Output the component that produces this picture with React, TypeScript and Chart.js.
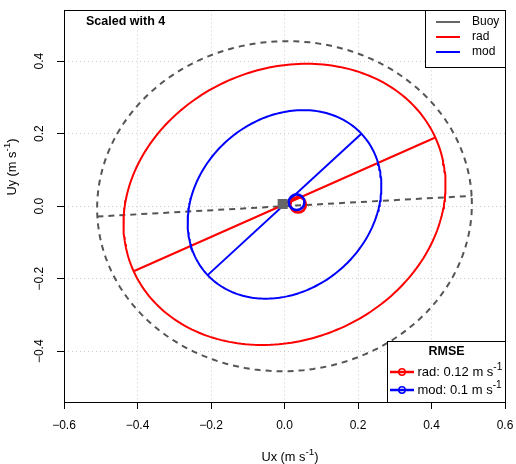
import { useEffect, useRef } from "react";
import { Chart, registerables } from "chart.js";
Chart.register(...registerables);

// ---- data ----
const ellipseNames = ["Buoy", "rad", "mod"];
const semiMajor = [0.51, 0.45, 0.286];
const semiMinor = [0.455, 0.374, 0.235];
const inclinationDeg = [3.2, 24.2, 43.0];
const centerX = [0, 0, 0];
const centerY = [0, 0.005, 0.005];
const meanU = [-0.005, 0.037, 0.033];
const meanV = [0.006, 0.004, 0.011];
const seriesColors = ["#555555", "#ff0000", "#0000ff"];
const rmseModels = ["rad", "mod"];
const rmseValues = ["0.12", "0.1"];
const xTicks = [-0.6, -0.4, -0.2, 0, 0.2, 0.4, 0.6];
const yTicks = [-0.4, -0.2, 0, 0.2, 0.4];
const scaleNote = "Scaled with 4";
const unitText = "m s";
const unitSup = "-1";

const FONT = "'Liberation Sans', Arial, Helvetica, sans-serif";

function ellipseOutline(i: number) {
  const pts: { x: number; y: number }[] = [];
  const th = (inclinationDeg[i] * Math.PI) / 180;
  const n = 240;
  for (let k = 0; k <= n; k++) {
    const t = (2 * Math.PI * k) / n;
    const ex = semiMajor[i] * Math.cos(t);
    const ey = semiMinor[i] * Math.sin(t);
    pts.push({
      x: centerX[i] + ex * Math.cos(th) - ey * Math.sin(th),
      y: centerY[i] + ex * Math.sin(th) + ey * Math.cos(th),
    });
  }
  return pts;
}

function majorAxis(i: number) {
  const th = (inclinationDeg[i] * Math.PI) / 180;
  const dx = semiMajor[i] * Math.cos(th);
  const dy = semiMajor[i] * Math.sin(th);
  return [
    { x: centerX[i] - dx, y: centerY[i] - dy },
    { x: centerX[i] + dx, y: centerY[i] + dy },
  ];
}

function fmt(v: number) {
  if (Math.abs(v) < 1e-9) return "0.0";
  const s = v.toFixed(1);
  return s.replace("-", "\u2212");
}

function drawSupText(
  ctx: CanvasRenderingContext2D,
  base: string,
  sup: string,
  tail: string,
  x: number,
  y: number,
  align: "left" | "center",
  size: number
) {
  const supSize = size * 0.78;
  ctx.font = `${size}px ${FONT}`;
  const wBase = ctx.measureText(base).width;
  ctx.font = `${supSize}px ${FONT}`;
  const wSup = ctx.measureText(sup).width;
  ctx.font = `${size}px ${FONT}`;
  const wTail = ctx.measureText(tail).width;
  const total = wBase + wSup + wTail;
  let sx = align === "center" ? x - total / 2 : x;
  ctx.textAlign = "left";
  ctx.textBaseline = "middle";
  ctx.font = `${size}px ${FONT}`;
  ctx.fillText(base, sx, y);
  sx += wBase;
  ctx.font = `${supSize}px ${FONT}`;
  ctx.fillText(sup, sx, y - size * 0.38);
  sx += wSup;
  ctx.font = `${size}px ${FONT}`;
  ctx.fillText(tail, sx, y);
}

const decorPlugin = {
  id: "decor",
  afterDraw(chart: any) {
    const ctx: CanvasRenderingContext2D = chart.ctx;
    const xs = chart.scales.x;
    const ys = chart.scales.y;
    const area = chart.chartArea;
    ctx.save();
    // plot box
    ctx.strokeStyle = "#000";
    ctx.lineWidth = 1;
    ctx.setLineDash([]);
    ctx.strokeRect(
      Math.round(area.left) + 0.5,
      Math.round(area.top) + 0.5,
      Math.round(area.right) - Math.round(area.left),
      Math.round(area.bottom) - Math.round(area.top)
    );
    ctx.fillStyle = "#000";
    // x tick labels
    ctx.font = `12px ${FONT}`;
    ctx.textAlign = "center";
    ctx.textBaseline = "middle";
    xTicks.forEach((v) => {
      ctx.fillText(fmt(v), xs.getPixelForValue(v), 426);
    });
    // y tick labels (rotated)
    yTicks.forEach((v) => {
      ctx.save();
      ctx.translate(40, ys.getPixelForValue(v));
      ctx.rotate(-Math.PI / 2);
      ctx.textAlign = "center";
      ctx.textBaseline = "middle";
      ctx.font = `12px ${FONT}`;
      ctx.fillText(fmt(v), 0, 0);
      ctx.restore();
    });
    // axis titles
    drawSupText(ctx, "Ux (" + unitText, unitSup, ")", 290, 457, "center", 12.8);
    ctx.save();
    ctx.translate(12, 167);
    ctx.rotate(-Math.PI / 2);
    drawSupText(ctx, "Uy (" + unitText, unitSup, ")", 0, 0, "center", 12.8);
    ctx.restore();

    // note
    ctx.font = `bold 12.5px ${FONT}`;
    ctx.textAlign = "left";
    ctx.textBaseline = "middle";
    ctx.fillStyle = "#000";
    ctx.fillText(scaleNote, 86, 22);

    // legend 1
    const l1x = 425.5, l1y = Math.round(area.top) + 0.5, l1r = Math.round(area.right) + 0.5, l1b = 67.5;
    ctx.fillStyle = "#fff";
    ctx.fillRect(l1x, l1y, l1r - l1x, l1b - l1y);
    ctx.strokeStyle = "#000";
    ctx.lineWidth = 1;
    ctx.strokeRect(l1x, l1y, l1r - l1x, l1b - l1y);
    const rows1 = [22, 37, 52];
    ellipseNames.forEach((name, i) => {
      ctx.strokeStyle = i === 0 ? "#666666" : seriesColors[i];
      ctx.lineWidth = 2;
      ctx.beginPath();
      ctx.moveTo(436, rows1[i]);
      ctx.lineTo(460, rows1[i]);
      ctx.stroke();
      ctx.fillStyle = "#000";
      ctx.font = `12px ${FONT}`;
      ctx.textAlign = "left";
      ctx.textBaseline = "middle";
      ctx.fillText(name, 472, rows1[i]);
    });

    // legend 2
    const l2x = 387.5, l2y = 341.5, l2r = l1r, l2b = Math.round(area.bottom) + 0.5;
    ctx.fillStyle = "#fff";
    ctx.fillRect(l2x, l2y, l2r - l2x, l2b - l2y);
    ctx.strokeStyle = "#000";
    ctx.lineWidth = 1;
    ctx.strokeRect(l2x, l2y, l2r - l2x, l2b - l2y);
    ctx.fillStyle = "#000";
    ctx.font = `bold 12.5px ${FONT}`;
    ctx.textAlign = "center";
    ctx.textBaseline = "middle";
    ctx.fillText("RMSE", 446.5, 352);
    const rows2 = [372, 390];
    rmseModels.forEach((m, j) => {
      const c = seriesColors[j + 1];
      ctx.strokeStyle = c;
      ctx.lineWidth = 2.5;
      ctx.beginPath();
      ctx.moveTo(390, rows2[j]);
      ctx.lineTo(414, rows2[j]);
      ctx.stroke();
      ctx.lineWidth = 1.5;
      ctx.beginPath();
      ctx.arc(402, rows2[j], 3.2, 0, Math.PI * 2);
      ctx.stroke();
      ctx.fillStyle = "#000";
      drawSupText(ctx, `${m}: ${rmseValues[j]} ${unitText}`, unitSup, "", 417.5, rows2[j], "left", 13);
    });
    ctx.restore();
  },
};

export default function App() {
  const ref = useRef<HTMLCanvasElement | null>(null);
  useEffect(() => {
    document.body.style.margin = "0";
    const canvas = ref.current!;
    const datasets: any[] = [];
    // mean markers on top
    datasets.push({
      label: "buoy mean",
      data: [{ x: meanU[0], y: meanV[0] }],
      pointStyle: "rect",
      pointRadius: 7.1,
      backgroundColor: "#666666",
      borderColor: "#666666",
      borderWidth: 0,
      showLine: false,
      order: 0,
    });
    datasets.push({
      label: "mod mean",
      data: [{ x: meanU[2], y: meanV[2] }],
      pointStyle: "circle",
      pointRadius: 7.8,
      backgroundColor: "rgba(0,0,0,0)",
      borderColor: seriesColors[2],
      borderWidth: 2.6,
      showLine: false,
      order: 1,
    });
    datasets.push({
      label: "rad mean",
      data: [{ x: meanU[1], y: meanV[1] }],
      pointStyle: "circle",
      pointRadius: 7.8,
      backgroundColor: "rgba(0,0,0,0)",
      borderColor: seriesColors[1],
      borderWidth: 2.6,
      showLine: false,
      order: 2,
    });
    ellipseNames.forEach((name, i) => {
      const dashed = i === 0 ? [6, 5] : [];
      datasets.push({
        label: name + " ellipse",
        data: ellipseOutline(i),
        showLine: true,
        pointRadius: 0,
        borderColor: seriesColors[i],
        borderWidth: 2,
        borderDash: dashed,
        fill: false,
        tension: 0,
        order: 10 - i,
      });
      datasets.push({
        label: name + " axis",
        data: majorAxis(i),
        showLine: true,
        pointRadius: 0,
        borderColor: seriesColors[i],
        borderWidth: 2,
        borderDash: dashed,
        fill: false,
        order: 10 - i,
      });
    });

    const chart = new Chart(canvas, {
      type: "scatter",
      data: { datasets },
      options: {
        animation: false,
        responsive: false,
        devicePixelRatio: 1,
        layout: { padding: { left: 0, right: 11, top: 6, bottom: 0 } },
        plugins: { legend: { display: false }, tooltip: { enabled: false } },
        scales: {
          x: {
            type: "linear",
            min: -0.6,
            max: 0.6,
            afterBuildTicks: (s: any) => {
              s.ticks = xTicks.map((v) => ({ value: v }));
            },
            afterFit: (s: any) => {
              s.height = 62;
            },
            ticks: { display: false },
            border: { display: false, dash: [1, 3] },
            grid: {
              color: "#cccccc",
              lineWidth: 1,
              drawTicks: true,
              tickLength: 7,
              tickColor: "#000",
              tickWidth: 1,
              tickBorderDash: [],
            },
          },
          y: {
            type: "linear",
            min: -0.54,
            max: 0.54,
            afterBuildTicks: (s: any) => {
              s.ticks = yTicks.map((v) => ({ value: v }));
            },
            afterFit: (s: any) => {
              s.width = 64;
            },
            ticks: { display: false },
            border: { display: false, dash: [1, 3] },
            grid: {
              color: "#cccccc",
              lineWidth: 1,
              drawTicks: true,
              tickLength: 7,
              tickColor: "#000",
              tickWidth: 1,
              tickBorderDash: [],
            },
          },
        },
      } as any,
      plugins: [decorPlugin],
    });
    return () => chart.destroy();
  }, []);
  return (
    <div style={{ position: "absolute", left: 0, top: 0, width: 516, height: 464, background: "#fff" }}>
      <canvas ref={ref} width={516} height={464} style={{ display: "block" }} />
    </div>
  );
}
